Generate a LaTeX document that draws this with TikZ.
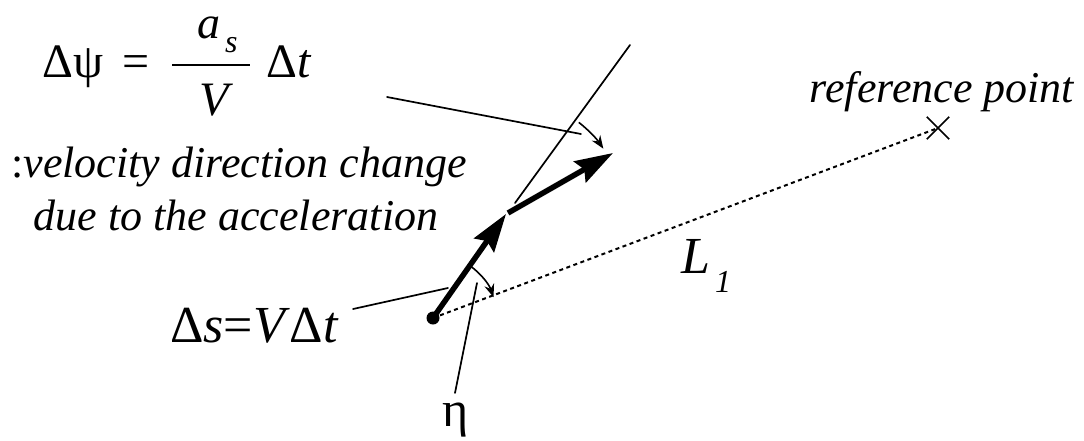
\documentclass[tikz,border=0pt]{standalone}
\usepackage{fontspec}
\setmainfont{Liberation Serif}
\usetikzlibrary{arrows.meta}
\tikzset{
  thin line/.style={line width=1.7pt, line cap=round},
  vel arrow/.style={line width=5.5pt, -{Stealth[length=38pt,width=24pt,inset=5pt]}},
  angle arrow/.style={line width=1.6pt, -{Stealth[length=13pt,width=10pt]}},
  ref line/.style={line width=2pt, dash pattern=on 4pt off 3.5pt},
  lbl/.style={inner sep=0pt, anchor=base west},
}
\begin{document}
\begin{tikzpicture}[x=1pt,y=-1pt]
\useasboundingbox (0,0) rectangle (1084,440);
% points
\coordinate (P) at (433,318);
\coordinate (A1) at (506,214);
\coordinate (B) at (508,213);
\coordinate (A2) at (613,153);
\coordinate (T0) at (515,203);
\coordinate (T1) at (630,45);
\node[inner sep=0pt, minimum size=22pt] (R) at (938,128) {};
\draw[line width=1.7pt] (R.north west) -- (R.south east) (R.north east) -- (R.south west);
% dotted line to reference point
\draw[ref line] (P) -- (R.center);
% thin extension line
\draw[thin line] (T0) -- (T1);
% velocity arrows
\draw[vel arrow] (P) -- (A1);
\draw[vel arrow] (B) -- (A2);
\fill (P) circle (6.5pt);
% angle arcs (standard orientation inside scopes)
\begin{scope}[shift={(B)}, x=1pt, y=1pt]
  \draw[angle arrow] (52:115) arc[start angle=52, end angle=34, radius=115pt];
\end{scope}
\begin{scope}[shift={(P)}, x=1pt, y=1pt]
  \draw[angle arrow] (55:64) arc[start angle=55, end angle=19, radius=64pt];
\end{scope}
% formula
\node[lbl, font=\fontsize{48}{54}\selectfont] (dpsi) at (42,77) {Δψ};
\node[lbl, font=\fontsize{48}{54}\selectfont] (eq) at (122,77) {=};
\node[lbl, font=\fontsize{46}{52}\selectfont\itshape] (num) at (197,38) {a};
\node[lbl, font=\fontsize{32}{36}\selectfont\itshape] (sub) at (225,52) {s};
\node[anchor=base, inner sep=0pt, font=\fontsize{48}{54}\selectfont\itshape] (den) at (214,115) {V};
\draw[line width=2pt] (172,65) coordinate (bar1) -- (250,65) coordinate (bar2);
\node[lbl, font=\fontsize{48}{54}\selectfont] (dt) at (266,77) {Δ\textit{t}};
% description
\node[anchor=base, inner sep=0pt, font=\fontsize{44}{50}\selectfont] (desc1) at (239,177) {:\textit{velocity direction change}};
\node[anchor=base, inner sep=0pt, font=\fontsize{44}{50}\selectfont\itshape] (desc2) at (236,230) {due to the acceleration};
\coordinate (f0) at (387,97);
\coordinate (f1) at (581,134);
\draw[thin line] (f0) -- (f1);
% reference point label
\node[anchor=base, inner sep=0pt, font=\fontsize{44}{50}\selectfont\itshape] (reftext) at (942,102) {reference point};
% L1
\node[lbl, font=\fontsize{52}{58}\selectfont\itshape] (L) at (681,273) {L};
\node[lbl, font=\fontsize{32}{36}\selectfont\itshape] (L1) at (715,292) {1};
% Delta s
\node[lbl, font=\fontsize{52}{58}\selectfont] (ds) at (170,342) {Δ\textit{s}=\textit{V}Δ\textit{t}};
\coordinate (s0) at (353,309);
\coordinate (s1) at (448,288);
\draw[thin line] (s0) -- (s1);
% eta
\node[anchor=base, inner sep=0pt, font=\fontsize{50}{56}\selectfont] (eta) at (456,426) {η};
\coordinate (e0) at (455,393);
\coordinate (e1) at (477,283);
\draw[thin line] (e0) -- (e1);
\end{tikzpicture}
\end{document}
